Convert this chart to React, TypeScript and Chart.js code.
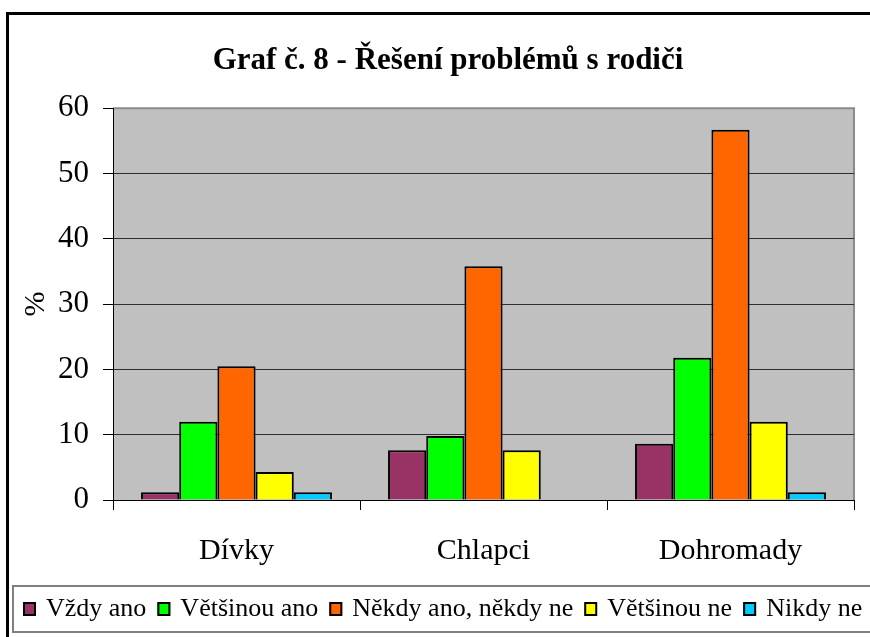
import React, { useEffect, useRef } from "react";
import { Chart, registerables } from "chart.js";

Chart.register(...registerables);

const TITLE = "Graf č. 8 - Řešení problémů s rodiči";
const Y_TITLE = "%";
const CATEGORIES = ["Dívky", "Chlapci", "Dohromady"];
const SERIES_NAMES = ["Vždy ano", "Většinou ano", "Někdy ano, někdy ne", "Většinou ne", "Nikdy ne"];
const SERIES_COLORS = ["#993366", "#00FF00", "#FF6600", "#FFFF00", "#00CCFF"];
const VZDY_ANO = [1.2, 7.6, 8.6];
const VETSINOU_ANO = [12.0, 9.8, 21.8];
const NEKDY = [20.5, 35.8, 56.7];
const VETSINOU_NE = [4.3, 7.6, 12.0];
const NIKDY_NE = [1.2, 0, 1.2];
const SERIES_VALUES = [VZDY_ANO, VETSINOU_ANO, NEKDY, VETSINOU_NE, NIKDY_NE];
const Y_MIN = 0;
const Y_MAX = 60;
const Y_STEP = 10;

const FONT = "'Liberation Serif', 'Times New Roman', serif";

const decorPlugin = {
  id: "decor",
  beforeDraw(chart: any) {
    const { ctx, chartArea } = chart;
    ctx.save();
    ctx.fillStyle = "#ffffff";
    ctx.fillRect(0, 0, chart.width, chart.height);
    ctx.fillStyle = "#C0C0C0";
    ctx.fillRect(chartArea.left, chartArea.top, chartArea.right - chartArea.left, chartArea.bottom - chartArea.top);
    ctx.strokeStyle = "#8a8a8a";
    ctx.lineWidth = 2;
    ctx.beginPath();
    ctx.moveTo(chartArea.left, chartArea.top);
    ctx.lineTo(chartArea.right, chartArea.top);
    ctx.lineTo(chartArea.right, chartArea.bottom);
    ctx.stroke();
    ctx.strokeStyle = "#000";
    ctx.lineWidth = 3;
    ctx.beginPath();
    ctx.moveTo(7.5, chart.height + 5);
    ctx.lineTo(7.5, 13.5);
    ctx.lineTo(chart.width + 5, 13.5);
    ctx.stroke();
    ctx.restore();
  },
  afterDraw(chart: any) {
    const { ctx } = chart;
    ctx.save();
    ctx.strokeStyle = "#808080";
    ctx.lineWidth = 2;
    ctx.strokeRect(13, 586, chart.width + 20, 46);
    ctx.font = "normal 400 26px " + FONT;
    ctx.textBaseline = "middle";
    ctx.textAlign = "left";
    let x = 23;
    const cy = 609;
    chart.data.datasets.forEach((ds: any) => {
      ctx.fillStyle = ds.backgroundColor;
      ctx.fillRect(x, cy - 7, 13, 14);
      ctx.strokeStyle = "#000";
      ctx.lineWidth = 2;
      ctx.strokeRect(x + 1, cy - 6, 11, 12);
      const tx = x + 13 + 10;
      ctx.fillStyle = "#000";
      ctx.fillText(ds.label, tx, cy);
      x = tx + ctx.measureText(ds.label).width + 11;
    });
    ctx.restore();
  },
};

export default function App() {
  const canvasRef = useRef<HTMLCanvasElement | null>(null);

  useEffect(() => {
    let chart: any = null;
    let cancelled = false;
    const build = () => {
      if (cancelled || !canvasRef.current) return;
      chart = new Chart(canvasRef.current, {
        type: "bar",
        data: {
          labels: CATEGORIES,
          datasets: SERIES_NAMES.map((name, i) => ({
            label: name,
            data: SERIES_VALUES[i],
            backgroundColor: SERIES_COLORS[i],
            borderColor: "#000",
            borderWidth: 2,
            borderSkipped: "bottom",
            categoryPercentage: 0.773,
            barPercentage: 1.0,
            yAxisID: "y",
          })),
        },
        options: {
          responsive: false,
          animation: false,
          devicePixelRatio: 1,
          layout: { padding: { top: 13, left: 26, right: 0, bottom: 0 } },
          plugins: {
            legend: { display: false },
            tooltip: { enabled: false },
            title: {
              display: true,
              text: TITLE,
              color: "#000",
              font: { family: FONT, size: 31, weight: "bold", lineHeight: 1.2 },
              padding: { top: 29, bottom: 29 },
            },
          },
          scales: {
            x: {
              offset: true,
              grid: {
                display: true,
                drawOnChartArea: false,
                drawTicks: true,
                tickLength: 10,
                offset: true,
                tickColor: "#000",
                tickWidth: 1,
              },
              border: { display: true, color: "#000", width: 1 },
              ticks: { color: "#000", padding: 23, font: { family: FONT, size: 30 } },
              afterFit: (scale: any) => {
                scale.height = 137;
              },
            },
            y: {
              min: Y_MIN,
              max: Y_MAX,
              position: "left",
              ticks: { stepSize: Y_STEP, color: "#000", padding: 14, font: { family: FONT, size: 31 } },
              grid: {
                color: (c: any) => (c.tick && c.tick.value === Y_MAX ? "rgba(0,0,0,0)" : "#2e2e2e"),
                tickColor: "#000",
                tickLength: 10,
                lineWidth: 1,
              },
              border: { display: true, color: "#000", width: 1 },
              title: {
                display: true,
                text: Y_TITLE,
                color: "#000",
                font: { family: FONT, size: 30, lineHeight: 0.7 },
                padding: { top: 0, bottom: 0 },
              },
              afterFit: (scale: any) => {
                scale.width = 87;
              },
            },
            yRight: {
              position: "right",
              display: true,
              grid: { display: false, drawTicks: false },
              border: { display: false },
              ticks: { display: false },
              afterFit: (scale: any) => {
                scale.width = 16;
              },
            },
          },
        },
        plugins: [decorPlugin],
      } as any);
    };
    const fonts: any = (document as any).fonts;
    if (fonts && fonts.load) {
      Promise.all([
        fonts.load("26px 'Liberation Serif'", "Dívky žěšů"),
        fonts.load("bold 31px 'Liberation Serif'", "Řešení"),
      ])
        .catch(() => null)
        .then(() => build());
    } else {
      build();
    }
    return () => {
      cancelled = true;
      if (chart) chart.destroy();
    };
  }, []);

  return (
    <div style={{ position: "fixed", left: 0, top: 0, width: 870, height: 637, overflow: "hidden", background: "#fff" }}>
      <canvas ref={canvasRef} width={870} height={637} style={{ display: "block" }} />
    </div>
  );
}
